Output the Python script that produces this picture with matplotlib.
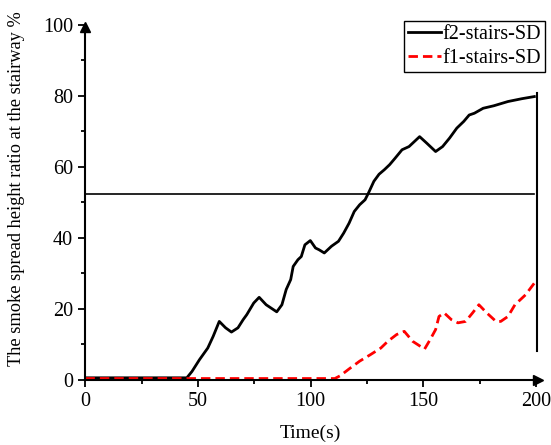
import numpy as np
import matplotlib.pyplot as plt
from matplotlib.ticker import MultipleLocator

plt.rcParams['font.family'] = ['Liberation Serif', 'DejaVu Serif']

# f2-stairs-SD (black solid)
f2_time = [0, 45, 47.3, 50.6, 54.3, 56.7, 59.4, 62.2, 64.8, 67.7, 70, 71.6, 74.7,
           77.1, 80.2, 84.9, 87.2, 89.1, 91.1, 92.2, 94.3, 95.8, 97.4, 99.8,
           102.1, 103.7, 106, 109.2, 112.3, 114.6, 117, 119.3, 121.7, 124.1,
           125.6, 128, 130.3, 132.7, 135, 137.4, 140.5, 143.6, 148.3, 151.4,
           155.4, 158.5, 161.6, 164.8, 167.9, 170.3, 172.6, 176.5, 181.2,
           187.5, 193.7, 199.2]
f2_ratio = [0.5, 0.5, 2.3, 5.6, 8.9, 12.2, 16.4, 14.6, 13.4, 14.6, 16.9, 18.3, 21.6,
            23.2, 21.1, 19.1, 21.1, 25.4, 28.2, 31.9, 33.8, 34.7, 38.0, 39.2,
            37.1, 36.6, 35.7, 37.6, 39.0, 41.3, 44.1, 47.4, 49.3, 50.7,
            52.6, 55.9, 57.9, 59.2, 60.6, 62.4, 64.8, 65.7, 68.5, 66.7,
            64.3, 65.7, 68.1, 70.9, 72.8, 74.6, 75.1, 76.5, 77.2,
            78.4, 79.2, 79.8]

# f1-stairs-SD (red dashed)
f1_time = [0, 110.7, 113.1, 117, 121.7, 126.4, 131.1, 134.2, 138.1, 141.5, 145.2,
           150.5, 153, 155.4, 156.9, 159.2, 162.4, 165.3, 168.7, 171.8, 174.6,
           178.1, 182.2, 184.3, 187.5, 190.6, 195.3, 199.2]
f1_ratio = [0.3, 0.3, 1.1, 3.0, 5.2, 7.0, 8.9, 10.8, 12.7, 13.6, 10.8,
            8.6, 11.3, 14.1, 17.8, 18.8, 16.9, 16.0, 16.4, 18.8, 21.1,
            18.8, 16.4, 16.4, 17.8, 21.1, 23.9, 27.2]

# reference lines
h_level = 52.3
v_time = 200.3
v_range = [8.2, 80.8]

fig = plt.figure(figsize=(5.51, 4.45), dpi=100)
ax = fig.add_axes([0.155, 0.147, 0.818, 0.797])

ax.plot(f2_time, f2_ratio, color='black', lw=2.0, label='f2-stairs-SD')
ax.plot(f1_time, f1_ratio, color='red', lw=2.0, dashes=(3.4, 1.8), label='f1-stairs-SD')
ax.plot([0, 199], [h_level, h_level], color='black', lw=1.2)
ax.plot([v_time, v_time], v_range, color='black', lw=1.5, clip_on=False)

ax.set_xlim(0, 200)
ax.set_ylim(0, 100)
ax.xaxis.set_major_locator(MultipleLocator(50))
ax.xaxis.set_minor_locator(MultipleLocator(25))
ax.yaxis.set_major_locator(MultipleLocator(20))
ax.yaxis.set_minor_locator(MultipleLocator(10))

ax.spines['top'].set_visible(False)
ax.spines['right'].set_visible(False)
ax.spines['left'].set_linewidth(1.5)
ax.spines['bottom'].set_linewidth(1.5)
ax.tick_params(which='major', direction='out', length=5, width=1.3, labelsize=14.5, pad=4)
ax.tick_params(which='minor', direction='out', length=3, width=1.3)

# arrow heads on the axes
ax.plot(1.005, 0, '>k', ms=7.5, transform=ax.get_yaxis_transform(), clip_on=False)
ax.plot(0, 0.995, '^k', ms=7.5, transform=ax.get_xaxis_transform(), clip_on=False)

ax.set_xlabel('Time(s)', fontsize=14, labelpad=10)
ax.set_ylabel('The smoke spread height ratio at the stairway %', fontsize=13.2)
ax.yaxis.set_label_coords(-0.133, 0.538)

leg = ax.legend(loc='upper right', bbox_to_anchor=(1.02, 1.01), fontsize=14.5,
                frameon=True, fancybox=False, edgecolor='black', framealpha=1,
                handlelength=1.6, handletextpad=0.1, borderpad=0.2,
                labelspacing=0.2, borderaxespad=0.0)
leg.get_frame().set_linewidth(1.0)

fig.savefig('out.png', dpi=100)
